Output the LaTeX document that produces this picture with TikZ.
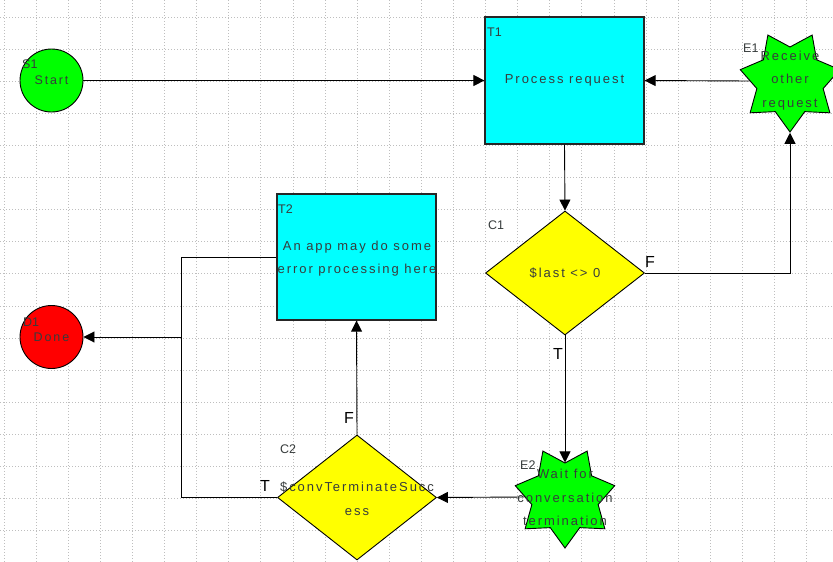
\documentclass[tikz,border=0pt]{standalone}
\usepackage{fontspec}
\setmainfont{Liberation Sans}
\newfontfamily\spacedfont[LetterSpace=15]{Liberation Sans}
\usetikzlibrary{shapes.geometric,arrows.meta}
\definecolor{txt}{RGB}{55,60,60}
\definecolor{gridc}{RGB}{190,190,190}
\definecolor{fgreen}{RGB}{0,255,0}
\definecolor{fcyan}{RGB}{0,255,255}
\definecolor{fyellow}{RGB}{255,255,0}
\definecolor{fred}{RGB}{255,0,0}
\begin{document}
\begin{tikzpicture}[x=1pt,y=-1pt,
  gridline/.style={gridc, line width=0.8pt, dash pattern=on 1pt off 2pt},
  roundnode/.style={circle, draw=black, line width=0.9pt, minimum size=63pt, inner sep=0pt,
    font=\spacedfont\fontsize{12.5}{14}\selectfont, text=txt},
  tasknode/.style={rectangle, draw=black!85, line width=1.2pt, fill=fcyan, inner sep=0pt,
    minimum width=159pt},
  condnode/.style={diamond, draw=black, line width=0.9pt, fill=fyellow, inner sep=0pt,
    minimum width=159pt, minimum height=124pt},
  eventnode/.style={star, star points=7, star point ratio=1.5, shape border rotate=180,
    draw=black, line width=0.9pt, fill=fgreen, inner sep=0pt, minimum size=102pt},
  bodytext/.style={font=\spacedfont\fontsize{13}{23.5}\selectfont, text=txt, align=center, inner sep=0pt},
  idlabel/.style={font=\fontsize{12.5}{14}\selectfont, text=txt, anchor=west, inner sep=0pt},
  branchlabel/.style={font=\fontsize{16}{18}\selectfont, text=black, inner sep=0pt},
  conn/.style={draw=black, line width=0.9pt},
  arr/.style={conn, -{Triangle[length=11pt,width=11pt]}}
]
\useasboundingbox (0,0) rectangle (833,562);
\clip (0,0) rectangle (833,562);
\fill[white] (0,0) rectangle (833,562);
% grid
\foreach \i in {0,...,25} \draw[gridline] ({4+32.1*\i},0) -- ({4+32.1*\i},562);
\foreach \j in {0,...,17} \draw[gridline] (0,{17+32.1*\j}) -- (833,{17+32.1*\j});

% shapes
\node[roundnode, fill=fgreen] (S1) at (51.5,80.5) {Start};
\node[tasknode, minimum height=127pt] (T1) at (564.5,80.5) {};
\node[eventnode] (E1) at (790,81) {};
\node[condnode] (C1) at (565,273) {};
\node[tasknode, minimum height=126pt] (T2) at (356.5,257) {};
\node[roundnode, fill=fred] (D1) at (51.5,337) {Done};
\node[condnode, minimum height=125pt] (C2) at (357,497.5) {};
\node[eventnode] (E2) at (565,497) {};

% connectors
\coordinate (jb) at (181,497.5);
\coordinate (jt) at (181,257);
\coordinate (jm) at (181,337);
\draw[arr] (S1.east) -- (T1.west);
\draw[arr] (E1.west) -- (T1.east);
\draw[arr] (T1.south) -- (C1.north);
\draw[arr] (C1.east) -| (E1.south);
\draw[arr] (C1.south) -- (E2.north);
\draw[arr] (E2.west) -- (C2.east);
\draw[arr] (C2.north) -- (T2.south);
\draw[arr] (C2.west) -- (jb) -- (jm) -- (D1.east);
\draw[conn] (T2.west) -- (jt) -- (jm);

% texts
\node[bodytext] (t1text) at (564.5,80.5) {Process request};
\node[bodytext] (t2text) at (357,258.5) {An app may do some\\error processing here};
\node[bodytext] (c1text) at (565,273) {\$last <> 0};
\node[bodytext] (c2text) at (357,498.5) {\$convTerminateSucc\\ess};
\node[bodytext] (e1text) at (790,80.5) {Receive\\other\\request};
\node[bodytext] (e2text) at (565,497.5) {Wait for\\conversation\\termination};

% id labels
\node[idlabel] (s1id) at (22,64) {S1};
\node[idlabel] (d1id) at (23,322) {D1};
\node[idlabel] (t1id) at (487,32) {T1};
\node[idlabel] (t2id) at (278,209) {T2};
\node[idlabel] (c1id) at (488,225) {C1};
\node[idlabel] (c2id) at (280,449) {C2};
\node[idlabel] (e1id) at (743,48) {E1};
\node[idlabel] (e2id) at (520,465) {E2};

% branch labels
\node[branchlabel] (c1f) at (650,262) {F};
\node[branchlabel] (c1t) at (558,354) {T};
\node[branchlabel] (c2t) at (265,486) {T};
\node[branchlabel] (c2f) at (349,418) {F};
\end{tikzpicture}
\end{document}
